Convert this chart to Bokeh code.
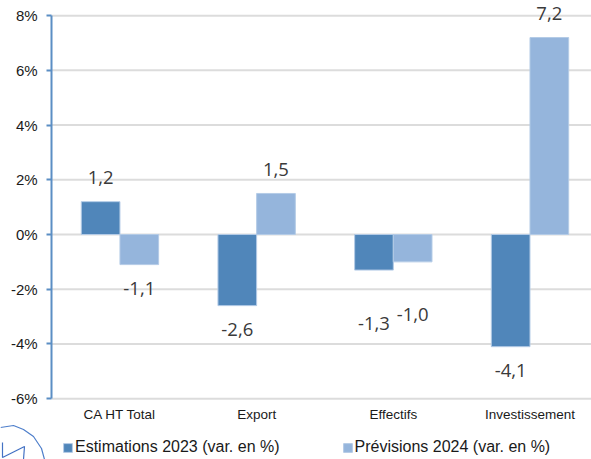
from bokeh.embed import file_html
from bokeh.resources import INLINE
from bokeh.plotting import figure
from bokeh.models import ColumnDataSource, FixedTicker, Legend, LegendItem, Range1d
from bokeh.core.properties import value

categories = ["CA HT Total", "Export", "Effectifs", "Investissement"]
estimations = [1.2, -2.6, -1.3, -4.1]
previsions = [-1.1, 1.5, -1.0, 7.2]
estimation_labels = ["1,2", "-2,6", "-1,3", "-4,1"]
prevision_labels = ["-1,1", "1,5", "-1,0", "7,2"]
y_ticks = [-6, -4, -2, 0, 2, 4, 6, 8]

DARK = "#5086BA"
LIGHT = "#95B5DC"
EDGE = "#B4CBE6"
AXIS_BLUE = "#5B8EC4"
GRID = "#DCDCDC"
BAR_WIDTH = 0.283
LABEL_GAP = 24
# The Effectifs labels are pushed further out, clear of the neighbouring bars.
EFFECTIFS_GAP = 53
X_START = -0.5
X_END = 3.45
Y_MIN, Y_MAX = y_ticks[0], y_ticks[-1]

positions = list(range(len(categories)))

# The frame fills the page so labels, legend and logo can sit around the plot area;
# both axes are pinned to the edges of that area.
p = figure(
    width=591, height=459, output_backend="svg", toolbar_location=None,
    x_range=Range1d(-0.874, X_END), y_range=Range1d(-8.224, 8.553),
    min_border=0,
    background_fill_color="white", border_fill_color="white",
)
p.extra_x_ranges["page_x"] = Range1d(0, 591)
p.extra_y_ranges["page_y"] = Range1d(459, 0)
p.outline_line_color = None

p.xgrid.visible = False
p.ygrid.visible = False
p.segment(x0=[X_START] * len(y_ticks), x1=[X_END] * len(y_ticks), y0=y_ticks, y1=y_ticks,
          line_color=GRID, line_width=2, level="underlay")

yaxis = p.yaxis[0]
yaxis.fixed_location = X_START
yaxis.bounds = (Y_MIN, Y_MAX)
yaxis.ticker = FixedTicker(ticks=y_ticks)
yaxis.major_label_overrides = {t: f"{t}%" for t in y_ticks}
yaxis.axis_line_color = AXIS_BLUE
yaxis.axis_line_width = 2
yaxis.major_tick_line_color = AXIS_BLUE
yaxis.major_tick_line_width = 2
yaxis.major_tick_in = 0
yaxis.major_tick_out = 5
yaxis.minor_tick_line_color = None
yaxis.major_label_text_font = "Liberation Sans"
yaxis.major_label_text_font_size = "15px"
yaxis.major_label_text_color = "#1A1A1A"
yaxis.major_label_standoff = 9

xaxis = p.xaxis[0]
xaxis.fixed_location = Y_MIN
xaxis.bounds = (X_START, X_END)
xaxis.ticker = FixedTicker(ticks=positions)
xaxis.major_label_overrides = dict(zip(positions, categories))
xaxis.axis_line_color = None
xaxis.major_tick_line_color = None
xaxis.minor_tick_line_color = None
xaxis.major_label_text_font = "Liberation Sans"
xaxis.major_label_text_font_size = "13.5px"
xaxis.major_label_text_color = "#1A1A1A"
xaxis.major_label_standoff = 2

source = ColumnDataSource(dict(
    left_x=[x - BAR_WIDTH / 2 for x in positions],
    right_x=[x + BAR_WIDTH / 2 for x in positions],
    estimations=estimations,
    previsions=previsions,
))

dark_bars = p.vbar(x="left_x", top="estimations", bottom=0, width=BAR_WIDTH,
                   fill_color=DARK, line_color=EDGE, line_width=1, source=source)
light_bars = p.vbar(x="right_x", top="previsions", bottom=0, width=BAR_WIDTH,
                    fill_color=LIGHT, line_color=EDGE, line_width=1, source=source)

# Value labels are centred a fixed distance beyond the end of each bar.
for x_name, values, labels in (
    ("left_x", estimations, estimation_labels),
    ("right_x", previsions, prevision_labels),
):
    offsets = []
    for i, v in enumerate(values):
        gap = EFFECTIFS_GAP if categories[i] == "Effectifs" else LABEL_GAP
        offsets.append(-gap if v > 0 else gap)
    labels_source = ColumnDataSource(dict(
        x=source.data[x_name], y=values, t=labels, dy=offsets,
    ))
    p.text(x="x", y="y", text="t", y_offset="dy", source=labels_source,
           text_align="center", text_baseline="middle",
           text_font=value("Open Sans"), text_font_size="18.5px", text_color="#3A3A3A")

legend = Legend(
    items=[LegendItem(label="Estimations 2023 (var. en %)", renderers=[dark_bars]),
           LegendItem(label="Prévisions 2024 (var. en %)", renderers=[light_bars])],
    orientation="horizontal", location=(62, 3), spacing=62, padding=0, margin=0,
    glyph_width=11, glyph_height=11, label_standoff=2,
    label_text_font="Liberation Sans", label_text_font_size="16px", label_text_color="#1A1A1A",
    border_line_color=None, background_fill_alpha=0,
)
p.add_layout(legend)

# Partial logo in the bottom-left corner: an arc with a zigzag inside it.
p.line(x=[0, 13, 23, 33, 41, 44], y=[427, 425, 429, 436, 448, 459],
       x_range_name="page_x", y_range_name="page_y", line_color="#4F7FCB", line_width=1.2)
p.line(x=[2, 2, 24, 23], y=[442, 457, 446, 459],
       x_range_name="page_x", y_range_name="page_y", line_color="#4472C4", line_width=1.2)

open("out.html", "w").write(file_html(p, INLINE))
